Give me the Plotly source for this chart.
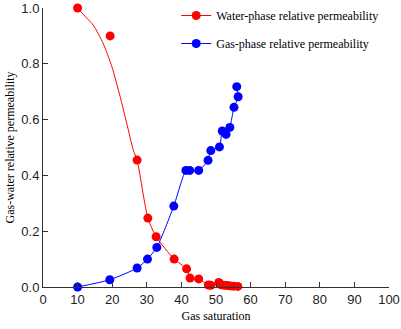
import plotly.graph_objects as go

# gas saturation (%) and relative permeabilities
water_sg = [10, 19.4, 27.2, 30.3, 32.7, 37.9, 41.5, 42.5, 45.0, 47.8, 48.5,
            50.8, 51.5, 52.4, 53.3, 54.2, 55.1, 56.3]
water_kr = [1.0, 0.9, 0.455, 0.247, 0.18, 0.10, 0.065, 0.032, 0.029, 0.007, 0.006,
            0.016, 0.008, 0.006, 0.005, 0.004, 0.003, 0.002]

# fitted water curve (drawn as a line only)
water_fit_sg = [10, 11.7, 14.5, 17.4, 19.9, 22.3, 24.2, 26.1, 27.2, 30.3, 32.7,
                37.9, 41.5, 42.5, 45.0, 47.8, 48.5, 50.8, 51.5, 52.4, 53.3,
                54.2, 55.1, 56.3]
water_fit_kr = [1.0, 0.976, 0.939, 0.873, 0.79, 0.682, 0.587, 0.49, 0.455, 0.247,
                0.18, 0.10, 0.065, 0.032, 0.029, 0.007, 0.006, 0.016, 0.008,
                0.006, 0.005, 0.004, 0.003, 0.002]

gas_sg = [10, 19.3, 27.2, 30.2, 32.9, 37.8, 41.3, 42.4, 45.0, 47.7, 48.5, 51.0,
          51.8, 52.9, 54.0, 55.2, 56.4, 56.0]
gas_kr = [0.0, 0.026, 0.068, 0.10, 0.142, 0.29, 0.418, 0.418, 0.418, 0.454,
          0.489, 0.502, 0.559, 0.547, 0.572, 0.644, 0.682, 0.718]

RED = "#ff0000"
BLUE = "#0000ff"

fig = go.Figure()

fig.add_trace(go.Scatter(x=water_fit_sg, y=water_fit_kr, mode="lines",
                         line=dict(color=RED, width=1, shape="spline", smoothing=0.6),
                         showlegend=False, hoverinfo="skip", cliponaxis=False))
fig.add_trace(go.Scatter(x=gas_sg, y=gas_kr, mode="lines",
                         line=dict(color=BLUE, width=1, shape="spline", smoothing=0.6),
                         showlegend=False, hoverinfo="skip", cliponaxis=False))
fig.add_trace(go.Scatter(x=water_sg, y=water_kr, mode="markers",
                         marker=dict(color=RED, size=9), showlegend=False,
                         cliponaxis=False))
fig.add_trace(go.Scatter(x=gas_sg, y=gas_kr, mode="markers",
                         marker=dict(color=BLUE, size=9), showlegend=False,
                         cliponaxis=False))

# legend entries
fig.add_trace(go.Scatter(x=[None], y=[None], mode="lines+markers",
                         name="Water-phase relative permeability", legendgroup="w",
                         line=dict(color=RED, width=1), marker=dict(color=RED, size=9)))
fig.add_trace(go.Scatter(x=[None], y=[None], mode="lines+markers",
                         name="Gas-phase relative permeability", legendgroup="g",
                         line=dict(color=BLUE, width=1), marker=dict(color=BLUE, size=9)))

fig.update_layout(
    width=401, height=329,
    margin=dict(l=43, r=12, t=8, b=42, autoexpand=False),
    plot_bgcolor="white", paper_bgcolor="white",
    font=dict(family="Liberation Sans", size=13, color="#222"),
    legend=dict(x=0.385, y=1.025, xanchor="left", yanchor="top",
                font=dict(family="Liberation Serif", size=12, color="black"),
                bgcolor="rgba(0,0,0,0)", tracegroupgap=9, itemwidth=30),
)

fig.update_xaxes(range=[0, 100], dtick=10, tick0=0, automargin=False,
                 showgrid=False, zeroline=False,
                 showline=True, linecolor="#333", linewidth=1,
                 ticks="inside", ticklen=5, tickcolor="#333",
                 title=dict(text="Gas saturation",
                            font=dict(family="Liberation Serif", size=12, color="black"),
                            standoff=6))
fig.update_yaxes(range=[0, 1.0], dtick=0.2, tickformat=".1f", automargin=False,
                 showgrid=False, zeroline=False,
                 showline=True, linecolor="#333", linewidth=1,
                 ticks="inside", ticklen=5, tickcolor="#333",
                 title=dict(text="Gas-water relative permeability",
                            font=dict(family="Liberation Serif", size=12, color="black"),
                            standoff=4))

# the page's default body margin would shift the figure by 8px
fig.write_html("out.html", config={"displayModeBar": False},
               post_script="document.body.style.margin='0';")
